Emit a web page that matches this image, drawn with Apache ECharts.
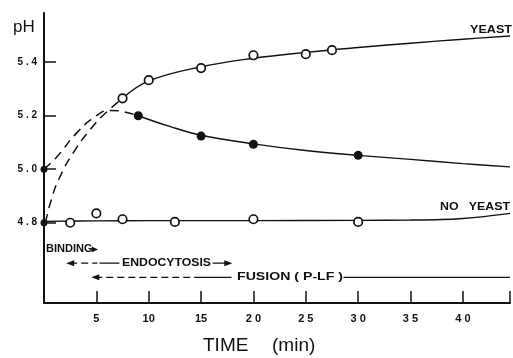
<!DOCTYPE html>
<html><head><meta charset="utf-8">
<script src="https://cdn.jsdelivr.net/npm/echarts@6/dist/echarts.min.js"></script>
<style>html,body{margin:0;padding:0;background:#fff}#c{width:513px;height:358px}</style>
</head><body><div id="c"></div>
<script>
// ---- data ----
const timeTicks = [5, 10, 15, 20, 25, 30, 35, 40];
const phTicks = [4.8, 5.0, 5.2, 5.4];

// measured points
const yeastT = [7.5, 10, 15, 20, 25, 27.5];
const yeastPH = [5.265, 5.333, 5.378, 5.426, 5.43, 5.445];
const boundT = [9, 15, 20, 30];
const boundPH = [5.2, 5.124, 5.093, 5.052];
const noYeastT = [2.5, 5, 7.5, 12.5, 20, 30];
const noYeastPH = [4.8, 4.835, 4.813, 4.803, 4.813, 4.803];
const startT = [0, 0];
const startPH = [5.0, 4.8];

// drawn curves
const yeastFitT = [7.5, 10, 15, 20, 25, 30, 35, 40, 44.5];
const yeastFitPH = [5.265, 5.33, 5.383, 5.415, 5.437, 5.455, 5.471, 5.486, 5.498];
const boundFitT = [9, 12, 15, 20, 25, 30, 35, 40, 44.5];
const boundFitPH = [5.2, 5.16, 5.127, 5.095, 5.07, 5.052, 5.037, 5.021, 5.009];
const noYeastFitT = [0, 5, 10, 20, 30, 35, 38, 40, 42, 44.5];
const noYeastFitPH = [4.805, 4.807, 4.808, 4.808, 4.809, 4.81, 4.812, 4.816, 4.823, 4.835];
const dashBoundT = [0, 1.2, 3.1, 5.0, 6.3, 7.6, 9];
const dashBoundPH = [5.0, 5.045, 5.135, 5.2, 5.22, 5.215, 5.2];
const dashYeastT = [0.15, 0.6, 1.5, 3.1, 4.6, 5.6, 7.5];
const dashYeastPH = [4.8, 4.873, 4.97, 5.08, 5.157, 5.2, 5.265];

// annotation arrows (time span, pH level)
const endoPH = 4.649;
const fusionPH = 4.596;
const endoDashT = [2.5, 5.1];
const endoSolidT = [5.3, 7.2];
const endoSolid2T = [16.1, 17.6];
const fusionDashT = [4.9, 14.8];
const fusionSolidT = [14.8, 17.9];
const fusionSolid2T = [28.6, 44.5];

const zip = (a, b) => a.map((v, i) => [v, b[i]]);
const blk = '#111';
const FONT = '"Liberation Sans", Arial, sans-serif';

const mctx = document.createElement('canvas').getContext('2d');
function fitText(text, x, y, width, font) {
  mctx.font = font;
  const w = mctx.measureText(text).width;
  return { type: 'text', x: x, y: y, scaleX: width / w, style: { text: text, font: font, fill: blk, verticalAlign: 'middle' } };
}

function seg(ts, ph, dashed, arrowStart, arrowEnd) {
  const d = ts.map(t => ({ value: [t, ph] }));
  if (arrowStart) { d[0].symbol = 'triangle'; d[0].symbolRotate = 90; d[0].symbolSize = [6, 8]; }
  if (arrowEnd) { d[d.length - 1].symbol = 'triangle'; d[d.length - 1].symbolRotate = -90; d[d.length - 1].symbolSize = [6, 8]; }
  return {
    type: 'line', data: d, symbol: 'none', showSymbol: true, silent: true,
    itemStyle: { color: blk, opacity: 1 }, animation: false,
    lineStyle: { color: blk, width: 1.3, type: dashed ? [7, 4] : 'solid' }
  };
}

const chart = echarts.init(document.getElementById('c'), null, { renderer: 'canvas' });
const option = {
  animation: false,
  backgroundColor: '#fff',
  grid: { left: 44, right: 0, top: 13, bottom: 55, containLabel: false },
  xAxis: {
    type: 'value', min: 0, max: 44.5, interval: 5,
    axisLine: { lineStyle: { color: blk, width: 2 } },
    axisTick: { inside: true, length: 12, lineStyle: { color: blk, width: 1.5 } },
    axisLabel: {
      color: blk, fontFamily: FONT, fontWeight: 'bold', fontSize: 11, margin: 10,
      formatter: v => (timeTicks.indexOf(v) >= 0 ? String(v).split('').join(' ').replace('1 ', '1') : '')
    },
    splitLine: { show: false }
  },
  yAxis: {
    type: 'value', min: 4.5, max: 5.584,
    axisLine: { show: true, lineStyle: { color: blk, width: 2 } },
    axisTick: { inside: true, length: 12, customValues: phTicks, lineStyle: { color: blk, width: 1.5 } },
    axisLabel: {
      customValues: phTicks, color: blk, fontFamily: FONT, fontWeight: 'bold', fontSize: 10, margin: 7,
      formatter: v => v.toFixed(1).replace('.', ' . ')
    },
    splitLine: { show: false }
  },
  series: [
    { type: 'line', data: zip(yeastFitT, yeastFitPH), smooth: 0.4, symbol: 'none', lineStyle: { color: blk, width: 1.4 } },
    { type: 'line', data: zip(boundFitT, boundFitPH), smooth: 0.4, symbol: 'none', lineStyle: { color: blk, width: 1.4 } },
    { type: 'line', data: zip(noYeastFitT, noYeastFitPH), smooth: 0.4, symbol: 'none', lineStyle: { color: blk, width: 1.4 } },
    { type: 'line', data: zip(dashBoundT, dashBoundPH), smooth: 0.5, symbol: 'none', lineStyle: { color: blk, width: 1.5, type: [9, 6] } },
    { type: 'line', data: zip(dashYeastT, dashYeastPH), smooth: 0.5, symbol: 'none', lineStyle: { color: blk, width: 1.5, type: [9, 6] } },
    { type: 'scatter', data: zip(yeastT, yeastPH), symbol: 'circle', symbolSize: 8.5, itemStyle: { color: '#fff', borderColor: blk, borderWidth: 1.7, opacity: 1 }, z: 5 },
    { type: 'scatter', data: zip(noYeastT, noYeastPH), symbol: 'circle', symbolSize: 8.5, itemStyle: { color: '#fff', borderColor: blk, borderWidth: 1.7, opacity: 1 }, z: 5 },
    { type: 'scatter', data: zip(boundT, boundPH), symbol: 'circle', symbolSize: 9, itemStyle: { color: blk, opacity: 1 }, z: 5 },
    { type: 'scatter', data: zip(startT, startPH), symbol: 'circle', symbolSize: 7, itemStyle: { color: blk, opacity: 1 }, z: 5 },
    seg(endoDashT, endoPH, true, true, false),
    seg(endoSolidT, endoPH, false, false, false),
    seg(endoSolid2T, endoPH, false, false, true),
    seg(fusionDashT, fusionPH, true, true, false),
    seg(fusionSolidT, fusionPH, false, false, false),
    seg(fusionSolid2T, fusionPH, false, false, false)
  ],
  graphic: [
    { type: 'text', x: 13, y: 27, style: { text: 'pH', font: '17px ' + FONT, fill: blk, verticalAlign: 'middle' } },
    fitText('YEAST', 470, 30, 42, 'bold 10px ' + FONT),
    fitText('NO   YEAST', 440, 207, 70, 'bold 10px ' + FONT),
    fitText('BINDING▸', 46, 249, 52, 'bold 10px ' + FONT),
    fitText('ENDOCYTOSIS', 122, 263, 89, 'bold 10px ' + FONT),
    fitText('FUSION ( P-LF )', 237, 277, 106, 'bold 10px ' + FONT),
    { type: 'text', x: 203, y: 346, style: { text: 'TIME', font: '19px ' + FONT, fill: blk, verticalAlign: 'middle' } },
    { type: 'text', x: 272, y: 346, style: { text: '(min)', font: '19px ' + FONT, fill: blk, verticalAlign: 'middle' } }
  ]
};
chart.setOption(option);
</script>
</body></html>
